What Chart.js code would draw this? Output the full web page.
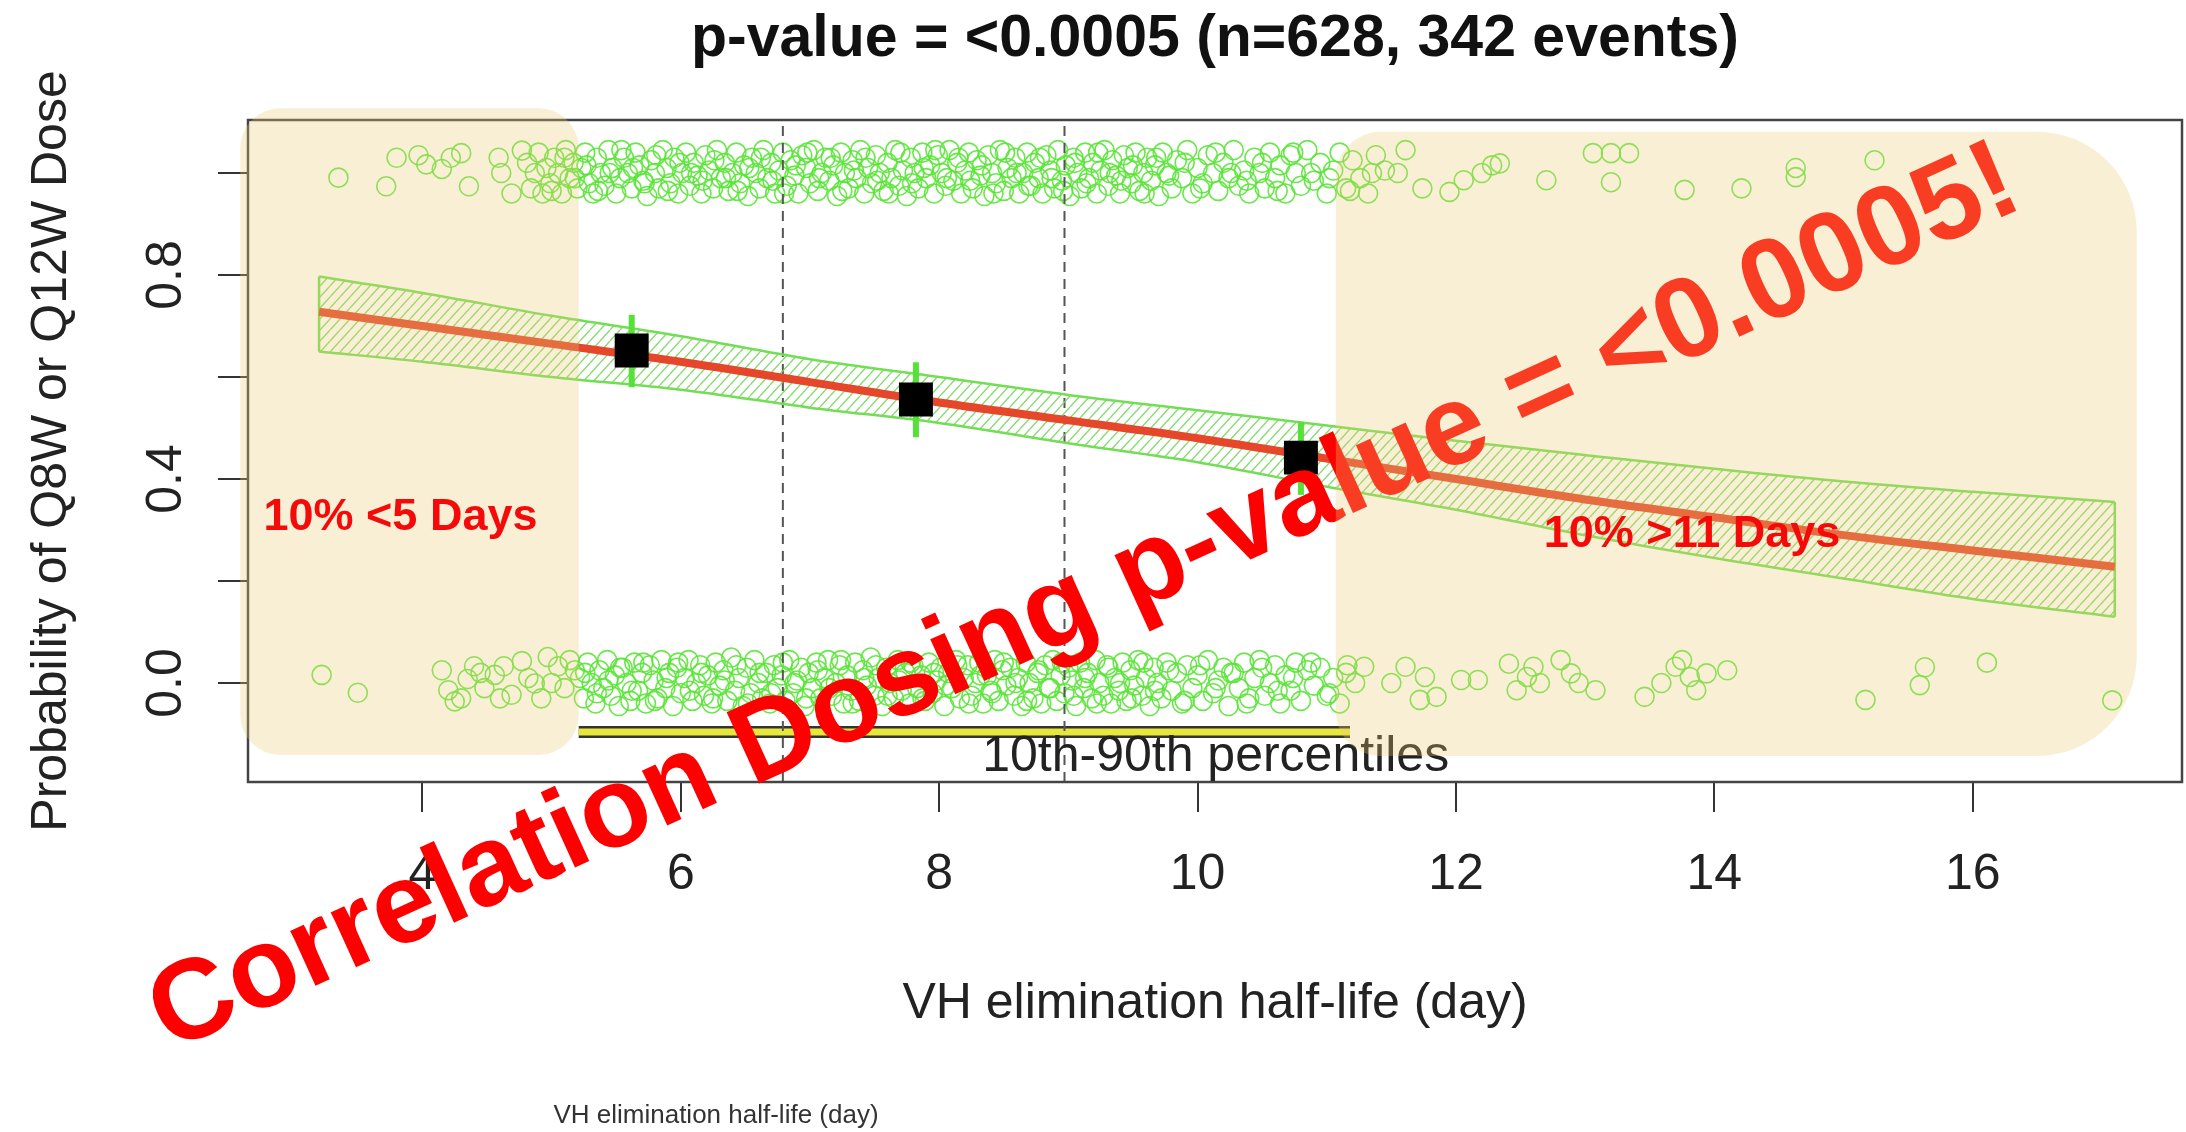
<!DOCTYPE html>
<html>
<head>
<meta charset="utf-8">
<title>VH elimination half-life vs dosing</title>
<script src="https://cdn.jsdelivr.net/npm/chart.js@4.4.1/dist/chart.umd.min.js"></script>
<style>
  html, body { margin: 0; padding: 0; background: #fff; overflow: hidden; }
  canvas { display: block; }
</style>
</head>
<body>
<canvas id="chart" width="2186" height="1132"></canvas>
<script>
// axis range and ticks
const xMin = 2.65, xMax = 17.62;
const yMin = -0.194, yMax = 1.104;
const xTicks = [4, 6, 8, 10, 12, 14, 16];
const yTicks = [0, 0.2, 0.4, 0.6, 0.8, 1.0];
const yTickLabels = ['0.0', '', '0.4', '', '0.8', ''];

// fitted logistic curve with confidence band
const fitX     = [3.2,   4,     5,     6,     7,     8,     9,     10,    11,    12,    13,    14,    15,    16,    17.1];
const fitY     = [0.728, 0.70,  0.665, 0.63,  0.59,  0.55,  0.515, 0.48,  0.44,  0.40,  0.36,  0.325, 0.29,  0.26,  0.228];
const fitUpper = [0.797, 0.765, 0.72,  0.68,  0.635, 0.60,  0.565, 0.535, 0.505, 0.475, 0.447, 0.42,  0.395, 0.375, 0.355];
const fitLower = [0.650, 0.63,  0.60,  0.575, 0.54,  0.51,  0.47,  0.433, 0.385, 0.34,  0.29,  0.245, 0.205, 0.165, 0.13];

// observed proportion per tertile with interval
const binX  = [5.62, 7.82, 10.80];
const binY  = [0.652, 0.556, 0.442];
const binLo = [0.580, 0.482, 0.369];
const binHi = [0.722, 0.629, 0.512];

// tertile cut points
const cutX = [6.79, 8.97];

// 10th-90th percentile bar
const pctRange = [5.21, 11.18];
const pctY = -0.096;
const pctLabel = '10th-90th percentiles';

// jittered responses, Q8W/Q12W = 1
const eventPoints = [
  [3.35,0.991],[3.72,0.974],[3.80,1.03],[3.97,1.035],[4.03,1.017],[4.15,1.008],[4.22,1.03],[4.30,1.039],[4.36,0.974],
  [4.59,1.03],[4.61,1.0],[4.69,0.96],[4.77,1.044],
  [4.81,1.02],[4.84,0.97],[4.87,1.0],[4.9,1.04],[4.93,0.96],[4.96,1.01],[4.99,0.98],[5.02,1.03],[5.05,1.0],[5.08,0.96],
  [5.11,1.045],[5.14,0.99],[5.17,1.02],[5.2,0.97],[5.23,1.01],[5.26,1.04],[5.29,0.98],[5.32,0.96],[5.35,1.03],[5.38,1.0],
  [5.41,0.975],[5.44,1.045],[5.47,1.01],[5.5,0.96],[5.53,0.99],[5.56,1.03],[5.59,1.0],[5.62,0.97],[5.65,1.04],[5.68,1.015],
  [5.71,0.985],[5.74,0.955],[5.77,1.025],[5.8,1.0],[5.83,0.97],[5.86,1.045],[5.89,1.01],[5.92,0.98],[5.95,1.03],[5.98,0.96],
  [6.01,1.0],[6.04,1.04],[6.07,0.975],[6.1,1.02],[6.13,0.995],[6.16,0.96],[6.19,1.035],[6.22,1.005],[6.25,0.97],[6.28,1.045],
  [6.31,0.99],[6.34,1.02],[6.37,0.965],[6.4,1.0],[6.43,1.04],[6.46,0.98],[6.49,1.015],[6.52,0.955],[6.55,1.03],[6.58,1.0],
  [6.61,0.97],[6.64,1.045],[6.67,0.99],[6.7,1.02],[6.73,0.96],[6.76,1.005],[6.79,1.04],[6.82,0.975],[6.85,1.025],[6.88,0.995],
  [6.91,0.96],[6.94,1.035],[6.97,1.01],[7.0,0.98],[7.03,1.045],[7.06,0.965],[7.09,1.0],[7.12,1.03],[7.15,0.985],[7.18,1.015],
  [7.21,0.955],[7.24,1.04],[7.27,1.0],[7.3,0.97],[7.33,1.025],[7.36,0.99],[7.39,1.045],[7.42,0.96],[7.45,1.01],[7.48,0.98],
  [7.51,1.035],[7.54,1.0],[7.57,0.965],[7.6,1.02],[7.63,0.99],[7.66,1.045],[7.69,0.975],[7.72,1.005],[7.75,0.955],[7.78,1.03],
  [7.81,1.0],[7.84,0.97],[7.87,1.04],[7.9,0.99],[7.93,1.015],[7.96,0.96],[7.99,1.035],[8.02,1.0],[8.05,0.975],[8.08,1.045],
  [8.11,0.985],[8.14,1.02],[8.17,0.96],[8.2,1.005],[8.23,1.04],[8.26,0.97],[8.29,1.025],[8.32,0.995],[8.35,0.955],[8.38,1.035],
  [8.41,1.0],[8.44,0.98],[8.47,1.045],[8.5,0.965],[8.53,1.01],[8.56,0.99],[8.59,1.03],[8.62,0.96],[8.65,1.0],[8.68,1.04],
  [8.71,0.975],[8.74,1.02],[8.77,0.99],[8.8,0.96],[8.83,1.035],[8.86,1.005],[8.89,0.97],[8.92,1.045],[8.95,0.985],[8.98,1.015],
  [9.01,0.955],[9.04,1.03],[9.07,1.0],[9.1,0.97],[9.13,1.04],[9.16,0.99],[9.19,1.02],[9.22,0.96],[9.25,1.005],[9.28,1.045],
  [9.31,0.975],[9.34,1.025],[9.37,0.995],[9.4,0.96],[9.43,1.035],[9.46,1.01],[9.49,0.98],[9.52,1.04],[9.55,0.965],[9.58,1.0],
  [9.61,1.03],[9.64,0.985],[9.67,1.015],[9.7,0.955],[9.73,1.04],[9.76,1.0],[9.8,0.97],[9.84,1.025],[9.88,0.99],[9.92,1.045],
  [9.96,0.96],[10.0,1.01],[10.04,0.98],[10.08,1.035],[10.12,1.0],[10.16,0.965],[10.2,1.02],[10.24,0.99],[10.28,1.045],[10.32,0.975],
  [10.36,1.005],[10.4,0.96],[10.44,1.03],[10.48,1.0],[10.52,0.97],[10.56,1.04],[10.6,0.99],[10.64,1.015],[10.68,0.96],[10.72,1.035],
  [10.76,1.0],[10.8,0.975],[10.85,1.045],[10.9,0.985],[10.95,1.02],[11.0,0.96],[11.05,1.005],[11.1,1.04],[11.15,0.97],[11.2,1.025],
  [11.26,0.99],[11.32,0.96],[11.38,1.035],[11.45,1.005],
  [5.0,0.965],[5.1,1.03],[5.18,0.99],[5.27,1.015],[5.36,0.965],[5.45,1.0],[5.54,1.045],[5.63,1.01],[5.72,0.98],[5.81,1.035],
  [5.9,0.965],[5.99,1.02],[6.08,1.0],[6.17,0.985],[6.26,1.025],[6.35,0.99],[6.44,0.965],[6.53,1.01],[6.62,1.03],[6.71,0.985],
  [6.8,0.96],[6.89,1.015],[6.98,1.04],[7.07,0.99],[7.16,1.03],[7.25,0.965],[7.34,1.005],[7.43,1.03],[7.52,0.985],[7.61,0.96],
  [7.7,1.04],[7.79,0.98],[7.88,1.01],[7.97,1.045],[8.06,0.99],[8.15,1.03],[8.24,0.985],[8.33,1.015],[8.42,0.96],[8.51,1.04],
  [8.6,1.0],[8.69,0.975],[8.78,1.03],[8.87,0.99],[8.96,0.965],[9.05,1.02],[9.14,0.98],[9.23,1.04],[9.32,1.0],[9.41,0.985],
  [9.5,1.015],[9.59,0.96],[9.68,1.03],[9.78,0.995],[9.9,1.02],[10.02,0.97],[10.14,1.04],[10.26,1.0],[10.38,0.985],[10.5,1.02],
  [10.62,0.965],[10.74,1.04],[10.88,1.0],[11.02,0.99],[11.18,0.965],[11.35,1.0],
  [11.55,1.0],[11.61,1.045],[11.74,0.97],[11.95,0.963],[12.06,0.986],[12.2,1.0],[12.28,1.015],[12.34,1.019],[12.70,0.986],
  [13.06,1.039],[13.2,1.039],[13.2,0.982],[13.34,1.039],[13.77,0.967],[14.21,0.97],[14.63,1.01],[14.63,0.992],[15.24,1.025]
];

// jittered responses, Q8W/Q12W = 0
const noEventPoints = [
  [3.22,0.016],[3.5,-0.019],[4.15,0.025],[4.2,-0.014],[4.25,-0.036],[4.3,-0.03],[4.35,0.008],[4.4,0.033],[4.45,0.02],
  [4.48,-0.01],[4.56,0.016],[4.6,-0.03],[4.63,0.033],[4.69,-0.023],[4.77,0.043],[4.82,0.01],[4.87,-0.001],[4.92,-0.03],
  [4.97,0.051],[5.0,0.0],[5.05,0.033],[5.1,-0.01],[5.14,0.045],[5.18,0.025],
  [5.22,0.01],[5.25,-0.03],[5.28,0.04],[5.31,0.0],[5.34,-0.04],[5.37,0.025],[5.4,-0.01],[5.43,0.045],[5.46,-0.025],[5.49,0.015],
  [5.52,-0.045],[5.55,0.03],[5.58,0.0],[5.61,-0.035],[5.64,0.04],[5.67,-0.015],[5.7,0.02],[5.73,-0.04],[5.76,0.035],[5.79,0.005],
  [5.82,-0.03],[5.85,0.045],[5.88,-0.01],[5.91,0.02],[5.94,-0.045],[5.97,0.03],[6.0,-0.02],[6.03,0.01],[6.06,0.045],[6.09,-0.035],
  [6.12,0.0],[6.15,0.035],[6.18,-0.025],[6.21,0.015],[6.24,-0.04],[6.27,0.04],[6.3,-0.005],[6.33,0.025],[6.36,-0.035],[6.39,0.05],
  [6.42,-0.015],[6.45,0.01],[6.48,-0.045],[6.51,0.03],[6.54,-0.02],[6.57,0.045],[6.6,0.0],[6.63,-0.03],[6.66,0.02],[6.69,-0.04],
  [6.72,0.035],[6.75,-0.01],[6.78,0.015],[6.81,-0.035],[6.84,0.045],[6.87,-0.02],[6.9,0.005],[6.93,0.03],[6.96,-0.045],[6.99,0.02],
  [7.02,-0.01],[7.05,0.04],[7.08,-0.03],[7.11,0.01],[7.14,0.045],[7.17,-0.025],[7.2,0.0],[7.23,0.035],[7.26,-0.04],[7.29,0.015],
  [7.32,-0.015],[7.35,0.04],[7.38,-0.035],[7.41,0.025],[7.44,-0.005],[7.47,0.05],[7.5,-0.025],[7.53,0.01],[7.56,-0.045],[7.59,0.03],
  [7.62,0.0],[7.65,-0.03],[7.68,0.045],[7.71,-0.015],[7.74,0.02],[7.77,-0.04],[7.8,0.035],[7.83,-0.01],[7.86,0.015],[7.89,-0.035],
  [7.92,0.04],[7.95,-0.02],[7.98,0.005],[8.01,0.03],[8.04,-0.045],[8.07,0.02],[8.1,-0.01],[8.13,0.045],[8.16,-0.03],[8.19,0.01],
  [8.22,0.035],[8.25,-0.025],[8.28,0.0],[8.31,0.04],[8.34,-0.04],[8.37,0.015],[8.4,-0.015],[8.43,0.045],[8.46,-0.035],[8.49,0.025],
  [8.52,-0.005],[8.55,0.03],[8.58,-0.025],[8.61,0.01],[8.64,-0.045],[8.67,0.04],[8.7,0.0],[8.73,-0.03],[8.76,0.02],[8.79,-0.04],
  [8.82,0.035],[8.85,-0.01],[8.88,0.045],[8.91,-0.035],[8.94,0.015],[8.97,-0.02],[9.0,0.03],[9.03,0.005],[9.06,-0.045],[9.09,0.04],
  [9.12,-0.01],[9.15,0.02],[9.18,-0.03],[9.21,0.045],[9.24,0.0],[9.27,-0.025],[9.3,0.035],[9.33,-0.04],[9.36,0.01],[9.39,-0.015],
  [9.42,0.04],[9.45,-0.035],[9.48,0.025],[9.51,-0.005],[9.54,0.045],[9.57,-0.025],[9.6,0.01],[9.63,-0.045],[9.66,0.03],[9.69,0.0],
  [9.72,-0.03],[9.76,0.04],[9.8,-0.015],[9.84,0.02],[9.88,-0.04],[9.92,0.035],[9.96,-0.01],[10.0,0.015],[10.04,-0.035],[10.08,0.045],
  [10.12,-0.02],[10.16,0.005],[10.2,0.03],[10.24,-0.045],[10.28,0.02],[10.32,-0.01],[10.36,0.04],[10.4,-0.03],[10.44,0.01],[10.48,0.045],
  [10.52,-0.025],[10.56,0.0],[10.6,0.035],[10.64,-0.04],[10.68,0.015],[10.72,-0.015],[10.76,0.04],[10.8,-0.035],[10.85,0.025],[10.9,-0.005],
  [10.95,0.03],[11.0,-0.025],[11.05,0.01],[11.1,-0.04],[11.16,0.035],[11.22,0.0],
  [5.26,0.02],[5.35,-0.02],[5.44,0.005],[5.53,0.03],[5.62,-0.015],[5.71,0.04],[5.8,-0.035],[5.89,0.01],[5.98,0.04],[6.07,-0.015],
  [6.16,0.02],[6.25,-0.03],[6.34,0.005],[6.43,0.035],[6.52,-0.04],[6.61,0.02],[6.7,-0.02],[6.79,0.04],[6.88,0.0],[6.97,-0.03],
  [7.06,0.025],[7.15,-0.01],[7.24,0.045],[7.33,-0.04],[7.42,0.01],[7.51,0.035],[7.6,-0.025],[7.69,0.005],[7.78,0.04],[7.87,-0.03],
  [7.96,0.02],[8.05,-0.005],[8.14,0.035],[8.23,-0.04],[8.32,0.015],[8.41,-0.02],[8.5,0.04],[8.59,0.0],[8.68,-0.035],[8.77,0.025],
  [8.86,-0.01],[8.95,0.04],[9.04,-0.025],[9.13,0.01],[9.22,-0.04],[9.31,0.03],[9.4,0.0],[9.49,-0.03],[9.58,0.04],[9.67,-0.015],
  [9.78,0.025],[9.9,-0.035],[10.02,0.035],[10.14,-0.01],[10.26,0.02],[10.38,-0.04],[10.5,0.03],[10.62,-0.015],[10.74,0.01],[10.88,0.04],
  [11.02,-0.02],[11.15,0.02],
  [11.29,0.032],[11.5,0.0],[11.61,0.032],[11.72,-0.033],[11.76,0.012],[11.85,-0.027],[12.04,0.006],[12.17,0.006],[12.41,0.038],
  [12.47,-0.014],[12.55,0.012],[12.6,0.032],[12.65,0.0],[12.81,0.045],[12.89,0.019],[12.95,0.0],[13.08,-0.014],[13.46,-0.027],
  [13.59,0.0],[13.7,0.032],[13.75,0.045],[13.81,0.012],[13.86,-0.014],[13.94,0.019],[14.1,0.025],[15.17,-0.033],[15.59,-0.004],
  [15.63,0.031],[16.11,0.04],[17.08,-0.034]
];

// highlighted tails (x from, x to, y top, y bottom) and their labels
const lowTail  = [2.59, 5.21, 1.127, -0.141];
const highTail = [11.07, 17.27, 1.081, -0.143];
const lowTailLabel  = { text: '10% <5 Days',  x: 2.77,  y: 0.30 };
const highTailLabel = { text: '10% >11 Days', x: 12.68, y: 0.266 };

// texts
const titleText = 'p-value = <0.0005 (n=628, 342 events)';
const xTitle = 'VH elimination half-life (day)';
const yTitle = 'Probability of Q8W or Q12W Dose';
const stampText = 'Correlation Dosing p-value = <0.0005!';

const FONT = "'Liberation Sans', Arial, Helvetica, sans-serif";
const GREEN = 'rgba(90, 228, 55, 0.9)';
const BAND_GREEN = 'rgba(115, 222, 85, 1)';

const toXY = (xs, ys) => xs.map((x, i) => ({ x: x, y: ys[i] }));
const toPts = arr => arr.map(p => ({ x: p[0], y: p[1] }));

const canvas = document.getElementById('chart');
const ctx = canvas.getContext('2d');

// hatch fill for the confidence band
function makeHatch() {
  const w = 10, h = 11;
  const c = document.createElement('canvas');
  c.width = w; c.height = h;
  const g = c.getContext('2d');
  g.strokeStyle = 'rgba(120, 215, 95, 0.9)';
  g.lineWidth = 1.4;
  g.beginPath();
  g.moveTo(0, h); g.lineTo(w, 0);
  g.moveTo(-w, h); g.lineTo(0, 0);
  g.moveTo(w, h); g.lineTo(2 * w, 0);
  g.stroke();
  return ctx.createPattern(c, 'repeat');
}

function roundedBox(c, x, y, w, h, r) {
  c.beginPath();
  c.moveTo(x + r[0], y);
  c.lineTo(x + w - r[1], y);
  c.arcTo(x + w, y, x + w, y + r[1], r[1]);
  c.lineTo(x + w, y + h - r[2]);
  c.arcTo(x + w, y + h, x + w - r[2], y + h, r[2]);
  c.lineTo(x + r[3], y + h);
  c.arcTo(x, y + h, x, y + h - r[3], r[3]);
  c.lineTo(x, y + r[0]);
  c.arcTo(x, y, x + r[0], y, r[0]);
  c.closePath();
}

// everything that R drew on top of the plot plus the slide overlays
const decorPlugin = {
  id: 'decor',
  beforeDraw(chart) {
    const c = chart.ctx;
    c.save();
    c.fillStyle = '#fff';
    c.fillRect(0, 0, chart.width, chart.height);
    c.restore();
  },
  afterDraw(chart) {
    const c = chart.ctx;
    const a = chart.chartArea;
    const xs = chart.scales.x, ys = chart.scales.y;
    c.save();

    // plot frame
    c.strokeStyle = '#444';
    c.lineWidth = 2.5;
    c.strokeRect(a.left, a.top, a.right - a.left, a.bottom - a.top);

    // y tick labels, rotated like base R
    c.fillStyle = '#222';
    c.font = '50px ' + FONT;
    c.textAlign = 'center';
    c.textBaseline = 'alphabetic';
    yTicks.forEach((v, i) => {
      if (!yTickLabels[i]) return;
      c.save();
      c.translate(181, ys.getPixelForValue(v));
      c.rotate(-Math.PI / 2);
      c.fillText(yTickLabels[i], 0, 0);
      c.restore();
    });

    // axis titles
    c.fillText(xTitle, (a.left + a.right) / 2, 1018);
    c.save();
    c.translate(66, (a.top + a.bottom) / 2);
    c.rotate(-Math.PI / 2);
    c.fillText(yTitle, 0, 0);
    c.restore();

    // percentile label
    c.textBaseline = 'middle';
    c.fillText(pctLabel, xs.getPixelForValue(10.14), ys.getPixelForValue(-0.145));

    // main title
    c.fillStyle = '#111';
    c.font = 'bold 59px ' + FONT;
    c.fillText(titleText, (a.left + a.right) / 2, 40);

    // small caption left over at the bottom of the slide
    c.fillStyle = '#333';
    c.font = '26px ' + FONT;
    c.fillText(xTitle, 716, 1116);

    // big red stamp
    c.save();
    c.translate(170, 1052);
    c.rotate(-24.5 * Math.PI / 180);
    c.fillStyle = '#ff0000';
    c.font = 'bold 114px ' + FONT;
    c.textAlign = 'left';
    c.textBaseline = 'alphabetic';
    c.fillText(stampText, 0, 0);
    c.restore();

    // translucent tail boxes
    c.fillStyle = 'rgba(232, 202, 112, 0.3)';
    [[lowTail, [40, 40, 40, 40]], [highTail, [45, 100, 100, 45]]].forEach(([b, r]) => {
      const x0 = xs.getPixelForValue(b[0]), x1 = xs.getPixelForValue(b[1]);
      const y0 = ys.getPixelForValue(b[2]), y1 = ys.getPixelForValue(b[3]);
      roundedBox(c, x0, y0, x1 - x0, y1 - y0, r);
      c.fill();
    });

    // tail labels
    c.fillStyle = '#f50a0a';
    c.font = 'bold 45px ' + FONT;
    c.textAlign = 'left';
    c.textBaseline = 'alphabetic';
    [lowTailLabel, highTailLabel].forEach(l => {
      c.fillText(l.text, xs.getPixelForValue(l.x), ys.getPixelForValue(l.y));
    });

    c.restore();
  }
};

const hatch = makeHatch();

const datasets = [
  // tertile proportions
  {
    type: 'scatter', data: toXY(binX, binY),
    pointStyle: 'rect', pointRadius: 24, backgroundColor: '#000', borderColor: '#000', borderWidth: 0
  },
  // their intervals
  ...binX.map((x, i) => ({
    type: 'line', data: [{ x: x, y: binLo[i] }, { x: x, y: binHi[i] }],
    borderColor: 'rgba(85, 225, 55, 1)', borderWidth: 6, pointRadius: 0
  })),
  // fitted curve
  {
    type: 'line', data: toXY(fitX, fitY),
    borderColor: '#e6462a', borderWidth: 8, pointRadius: 0, cubicInterpolationMode: 'monotone'
  },
  // confidence band
  {
    type: 'line', data: toXY(fitX, fitUpper),
    borderColor: BAND_GREEN, borderWidth: 2.5, pointRadius: 0, fill: '+1', backgroundColor: hatch,
    cubicInterpolationMode: 'monotone'
  },
  {
    type: 'line', data: toXY(fitX, fitLower),
    borderColor: BAND_GREEN, borderWidth: 2.5, pointRadius: 0, fill: false,
    cubicInterpolationMode: 'monotone'
  },
  // band end edges
  ...[0, fitX.length - 1].map(i => ({
    type: 'line', data: [{ x: fitX[i], y: fitLower[i] }, { x: fitX[i], y: fitUpper[i] }],
    borderColor: BAND_GREEN, borderWidth: 2.5, pointRadius: 0
  })),
  // tertile cut lines
  ...cutX.map(x => ({
    type: 'line', data: [{ x: x, y: yMin }, { x: x, y: yMax }],
    borderColor: '#555', borderWidth: 2, borderDash: [10, 7], pointRadius: 0
  })),
  // 10th-90th percentile bar
  {
    type: 'line', data: [{ x: pctRange[0], y: pctY }, { x: pctRange[1], y: pctY }],
    borderColor: '#e8e83c', borderWidth: 7, pointRadius: 0
  },
  {
    type: 'line', data: [{ x: pctRange[0], y: pctY }, { x: pctRange[1], y: pctY }],
    borderColor: '#333', borderWidth: 12, pointRadius: 0
  },
  // jittered raw data
  {
    type: 'scatter', data: toPts(eventPoints),
    pointRadius: 9.5, borderWidth: 1.6, borderColor: GREEN, backgroundColor: 'rgba(0,0,0,0)'
  },
  {
    type: 'scatter', data: toPts(noEventPoints),
    pointRadius: 9.5, borderWidth: 1.6, borderColor: GREEN, backgroundColor: 'rgba(0,0,0,0)'
  }
];

const axisGrid = { drawOnChartArea: false, drawTicks: true, tickLength: 30, color: '#333', lineWidth: 2 };

new Chart(ctx, {
  type: 'scatter',
  data: { datasets: datasets },
  options: {
    responsive: false,
    devicePixelRatio: 1,
    animation: false,
    events: [],
    layout: { autoPadding: false, padding: { left: 0, top: 120, right: 4, bottom: 0 } },
    plugins: { legend: { display: false }, tooltip: { enabled: false }, title: { display: false } },
    scales: {
      x: {
        type: 'linear', min: xMin, max: xMax,
        afterBuildTicks: s => { s.ticks = xTicks.map(v => ({ value: v })); },
        afterFit: s => { s.height = 350; s.paddingLeft = 0; s.paddingRight = 0; },
        grid: axisGrid,
        border: { display: false },
        ticks: {
          font: { family: FONT, size: 50 }, color: '#222', padding: 33,
          maxRotation: 0, autoSkip: false
        }
      },
      y: {
        type: 'linear', min: yMin, max: yMax,
        afterBuildTicks: s => { s.ticks = yTicks.map(v => ({ value: v })); },
        afterFit: s => { s.width = 248; s.paddingTop = 0; s.paddingBottom = 0; },
        grid: axisGrid,
        border: { display: false },
        ticks: { display: false }
      }
    }
  },
  plugins: [decorPlugin]
});
</script>
</body>
</html>
